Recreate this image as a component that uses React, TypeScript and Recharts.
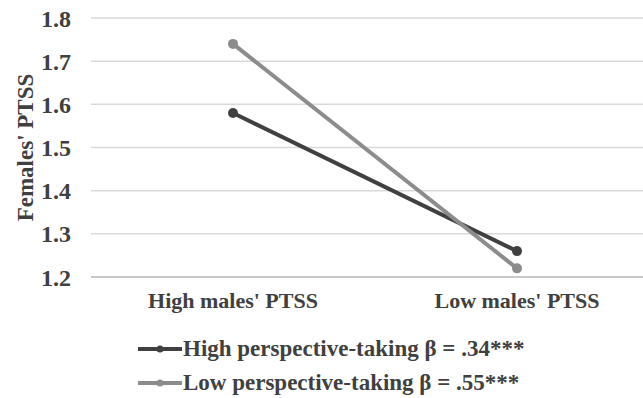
import { LineChart, Line, XAxis, YAxis, CartesianGrid, Legend, Label } from "recharts"

// categories on the x axis
const categories = ["High males' PTSS", "Low males' PTSS"]

// females' PTSS for each perspective-taking group
const highPT = [1.58, 1.26]
const lowPT = [1.74, 1.22]

const yTicks = [1.2, 1.3, 1.4, 1.5, 1.6, 1.7, 1.8]

const seriesNames = ["High perspective-taking β = .34***", "Low perspective-taking β = .55***"]

const data = categories.map((name, i) => ({ name, high: highPT[i], low: lowPT[i] }))

const FONT = '"Liberation Serif", "Times New Roman", serif'
const TEXT = "#404040"
const DARK = "#404040"
const LIGHT = "#8c8c8c"

function LegendBox(props: any) {
  const items = props.payload || []
  return (
    <div style={{ fontFamily: FONT, fontWeight: "bold", fontSize: 23, color: TEXT }}>
      {items.map((it: any) => (
        <div key={it.value} style={{ display: "flex", alignItems: "center", height: 34 }}>
          <svg width={44} height={12} style={{ marginRight: 1 }}>
            <line x1={0} y1={6} x2={44} y2={6} stroke={it.color} strokeWidth={4} />
            <circle cx={22} cy={6} r={3.5} fill={it.color} />
          </svg>
          <span>{it.value}</span>
        </div>
      ))}
    </div>
  )
}

export default function App() {
  return (
    <div style={{ position: "fixed", left: 0, top: 0, width: 643, height: 398, overflow: "hidden", background: "#fff" }}>
      <LineChart width={660} height={398} data={data} margin={{ top: 18, right: 1, left: 0, bottom: 0 }}>
        <CartesianGrid vertical={false} stroke="#d9d9d9" strokeWidth={1.5} />
        <XAxis
          dataKey="name"
          height={121}
          padding={{ left: 142, right: 142 }}
          tickLine={false}
          axisLine={{ stroke: "#bfbfbf", strokeWidth: 1.5 }}
          tickMargin={9}
          tick={{ fontFamily: FONT, fontWeight: "bold", fontSize: 22, fill: TEXT }}
        />
        <YAxis
          width={91}
          domain={[1.2, 1.8]}
          ticks={yTicks}
          tickFormatter={(v: number) => v.toFixed(1)}
          axisLine={false}
          tickLine={false}
          tickMargin={14}
          tick={{ fontFamily: FONT, fontWeight: "bold", fontSize: 24, fill: TEXT }}
        >
          <Label
            value="Females' PTSS"
            angle={-90}
            position="insideLeft"
            dx={20}
            fill={TEXT}
            fontFamily={FONT}
            fontWeight="bold"
            fontSize={23}
            style={{ textAnchor: "middle" }}
          />
        </YAxis>
        <Legend
          layout="vertical"
          align="center"
          verticalAlign="middle"
          content={<LegendBox />}
          wrapperStyle={{ left: 138, top: 332, width: 500 }}
        />
        <Line
          dataKey="high"
          name={seriesNames[0]}
          stroke={DARK}
          strokeWidth={4}
          dot={{ r: 5, fill: DARK, stroke: DARK, strokeWidth: 0 }}
          isAnimationActive={false}
        />
        <Line
          dataKey="low"
          name={seriesNames[1]}
          stroke={LIGHT}
          strokeWidth={4}
          dot={{ r: 5, fill: LIGHT, stroke: LIGHT, strokeWidth: 0 }}
          isAnimationActive={false}
        />
      </LineChart>
    </div>
  )
}
